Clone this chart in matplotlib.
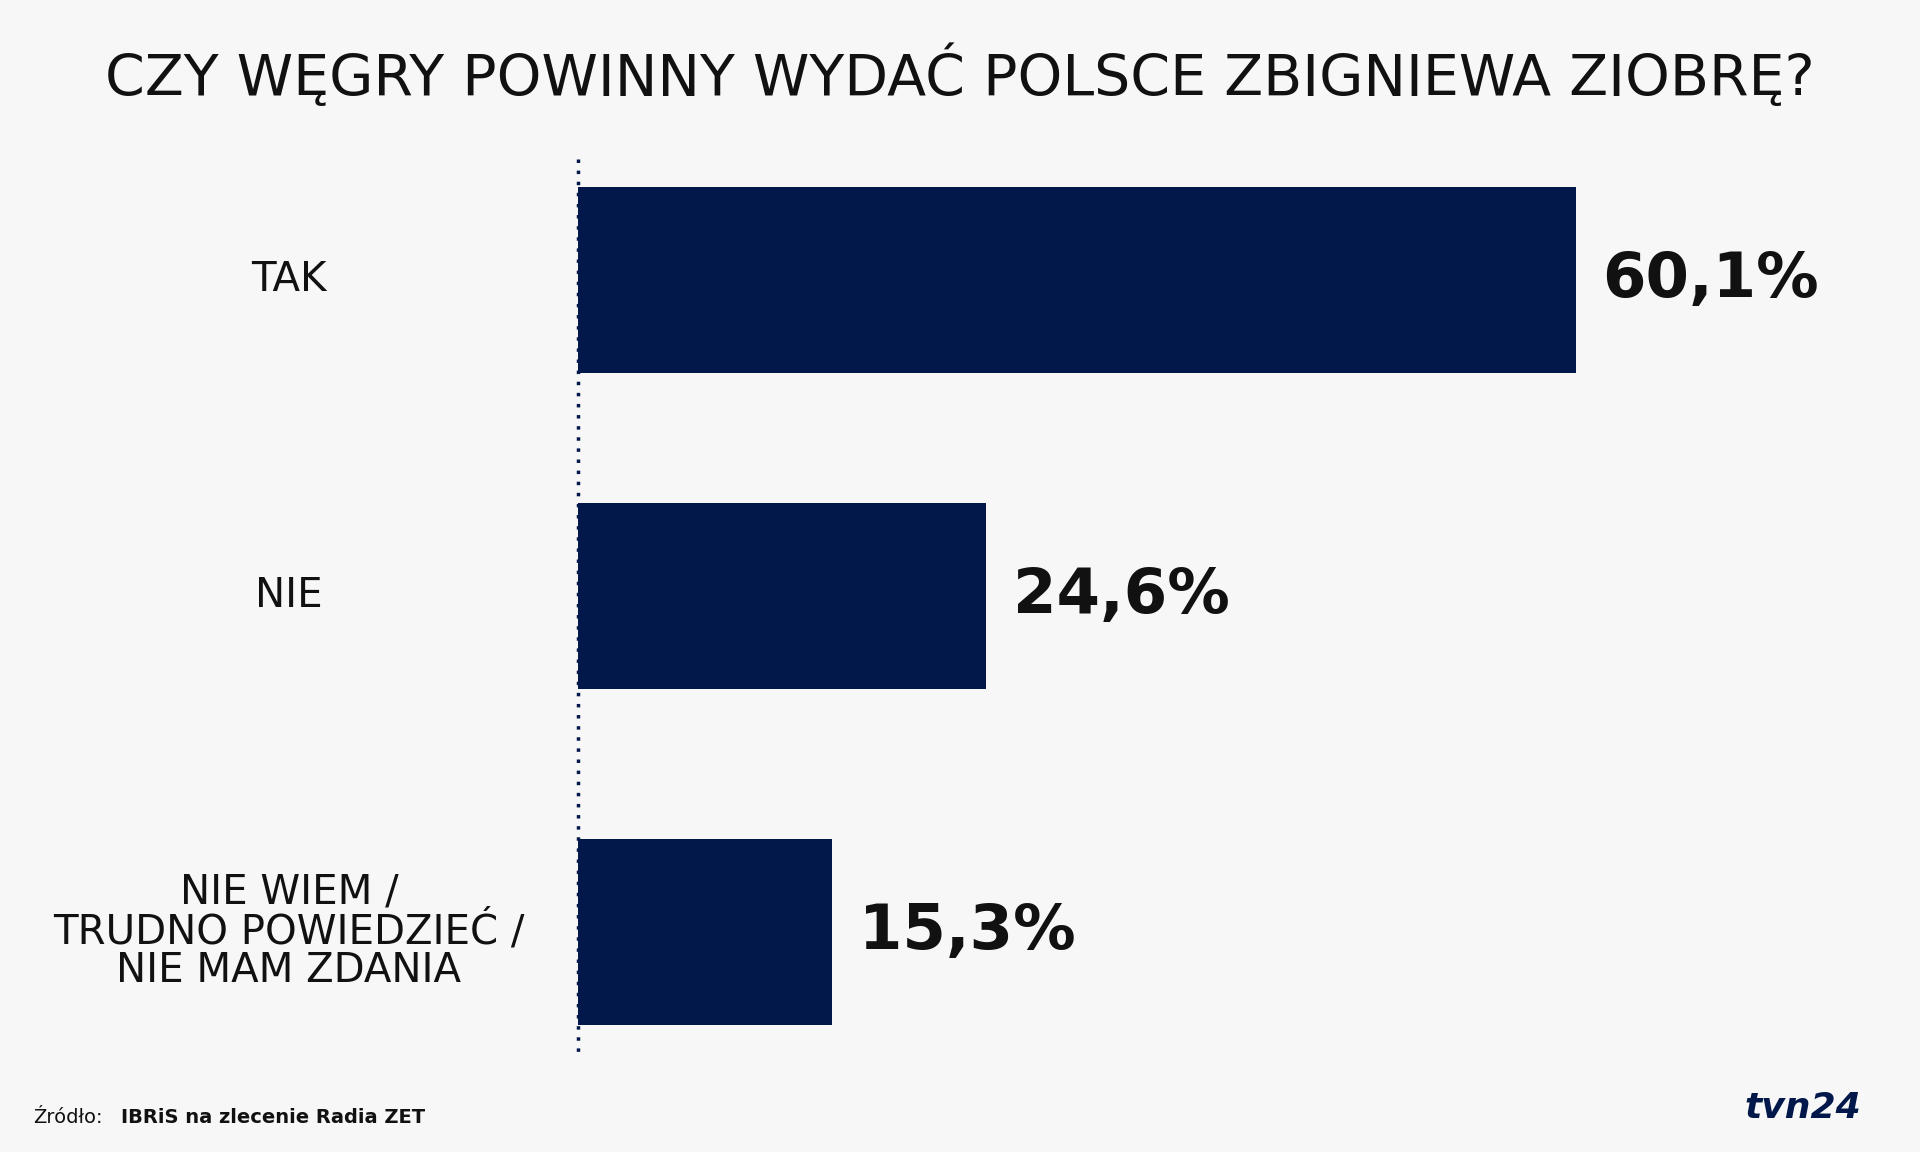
import matplotlib
matplotlib.use("Agg")
import matplotlib.pyplot as plt

categories = ["TAK", "NIE", "NIE WIEM /\nTRUDNO POWIEDZIEĆ /\nNIE MAM ZDANIA"]
values = [60.1, 24.6, 15.3]
labels = ["60,1%", "24,6%", "15,3%"]

W, H = 1568, 941
F = "DejaVu Sans"
fig = plt.figure(figsize=(19.2, 11.52), dpi=100)
fig.patch.set_facecolor("#f7f7f7")
ax = fig.add_axes([472/W, 0, 1-472/W, 1])
ax.set_facecolor("none")
ax.set_xlim(0, (W-472)/13.56)
ax.set_ylim(H, 0)
ax.axis("off")

centers = [229, 487, 761]
color = "#03184a"
ax.barh(centers, values, height=152, color=color, left=0)
for c, v, l, cat in zip(centers, values, labels, categories):
    ax.text(v + 1.6, c, l, va="center", ha="left", fontsize=45, fontweight="bold",
            family=F, color="#111111")
    fig.text(236/W, 1 - c/H, cat, ha="center", va="center", fontsize=29,
             family=F, color="#111111", linespacing=0.95)
ax.plot([0, 0], [130, 860], linestyle=(0, (1, 2.2)), color=color, lw=2.5, clip_on=False)

fig.text(0.5, 1 - 62/H, "CZY WĘGRY POWINNY WYDAĆ POLSCE ZBIGNIEWA ZIOBRĘ?",
         ha="center", va="center", fontsize=41, family=F, color="#111111")
fig.text(27/W, 1 - 913/H, "Źródło:", ha="left", va="center", fontsize=14, family=F, color="#111111")
fig.text(99/W, 1 - 913/H, "IBRiS na zlecenie Radia ZET", ha="left", va="center",
         fontsize=14, family=F, fontweight="bold", color="#111111")
fig.text(1520/W, 1 - 905/H, "tvn24", ha="right", va="center", fontsize=26,
         family=F, fontweight="bold", style="italic", color=color)
fig.savefig("out.png", dpi=100, facecolor=fig.get_facecolor())
